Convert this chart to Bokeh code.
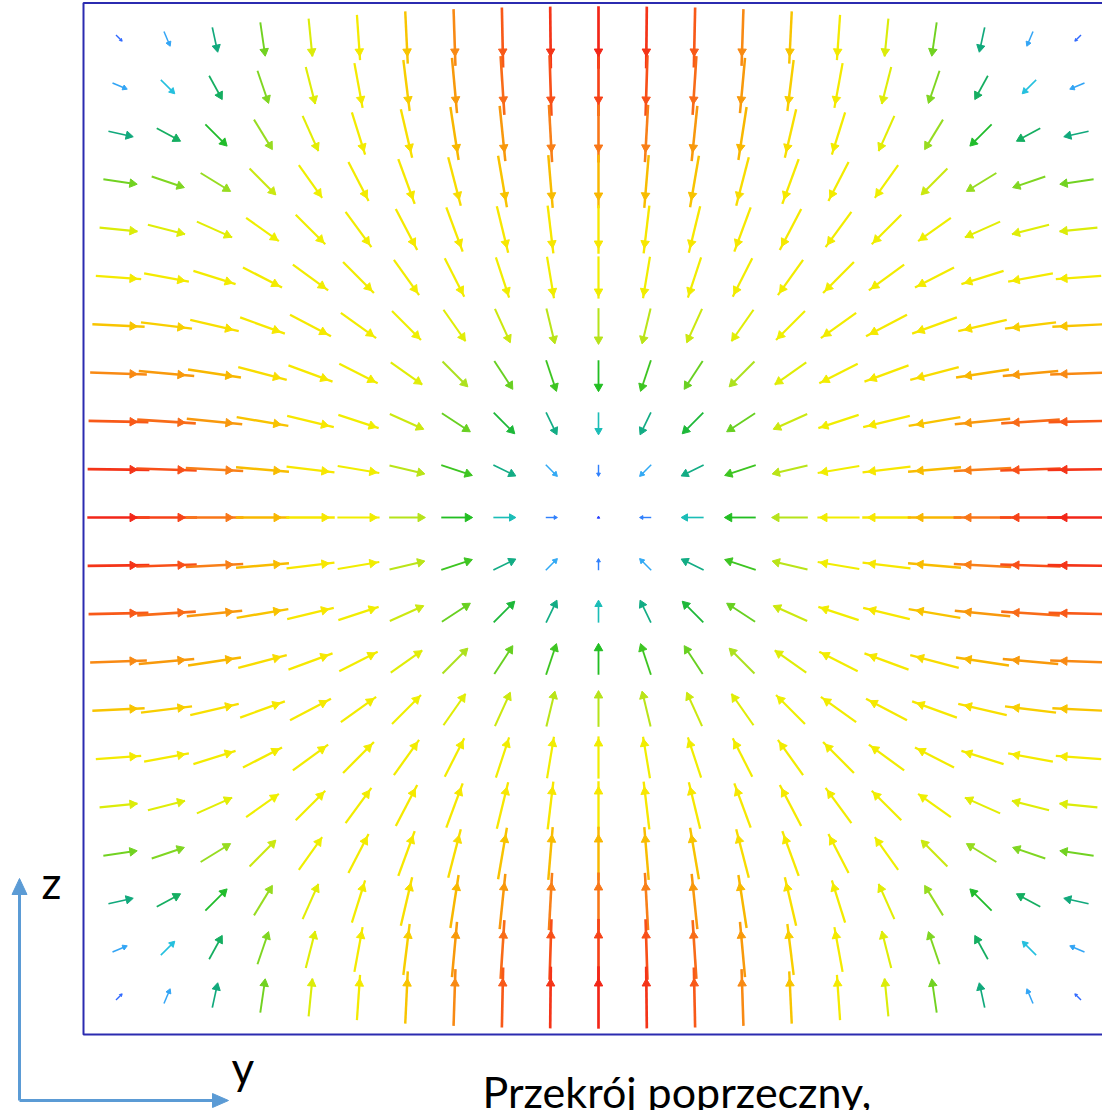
import math
from bokeh.plotting import figure
from bokeh.models import Range1d, ColumnDataSource
from bokeh.core.properties import value
from bokeh.embed import file_html
from bokeh.resources import INLINE

# ---------------- data ----------------
# grid positions of the arrows (cross-section coordinates y, z)
grid_y = [-10, -9, -8, -7, -6, -5, -4, -3, -2, -1, 0, 1, 2, 3, 4, 5, 6, 7, 8, 9, 10]
grid_z = [10, 9, 8, 7, 6, 5, 4, 3, 2, 1, 0, -1, -2, -3, -4, -5, -6, -7, -8, -9, -10]

# horizontal (y) component of the field, % of maximum, rows top -> bottom
U = [
    [8, 8, 7, 7, 6, 5, 4, 3, 2, 1, 0, -1, -2, -3, -4, -5, -6, -7, -7, -8, -8],
    [19, 18, 17, 16, 15, 13, 10, 8, 6, 3, 0, -3, -6, -8, -10, -13, -15, -16, -17, -18, -19],
    [32, 31, 29, 27, 25, 21, 18, 13, 9, 5, 0, -5, -9, -13, -18, -21, -25, -27, -29, -31, -32],
    [48, 47, 44, 41, 37, 32, 26, 20, 14, 7, 0, -7, -14, -20, -26, -32, -37, -41, -44, -47, -48],
    [60, 59, 56, 52, 47, 41, 34, 26, 18, 9, 0, -9, -18, -26, -34, -41, -47, -52, -56, -59, -60],
    [72, 71, 67, 62, 56, 49, 40, 31, 21, 11, 0, -11, -21, -31, -40, -49, -56, -62, -67, -71, -72],
    [83, 81, 77, 71, 65, 56, 46, 35, 24, 13, 0, -13, -24, -35, -46, -56, -65, -71, -77, -81, -83],
    [90, 88, 84, 77, 70, 61, 50, 38, 26, 14, 0, -14, -26, -38, -50, -61, -70, -77, -84, -88, -90],
    [95, 93, 88, 82, 74, 64, 53, 40, 28, 14, 0, -14, -28, -40, -53, -64, -74, -82, -88, -93, -95],
    [98, 96, 91, 84, 76, 66, 54, 42, 29, 15, 0, -15, -29, -42, -54, -66, -76, -84, -91, -96, -98],
    [99, 97, 92, 85, 77, 67, 55, 42, 29, 15, 0, -15, -29, -42, -55, -67, -77, -85, -92, -97, -99],
    [98, 96, 91, 84, 76, 66, 54, 42, 29, 15, 0, -15, -29, -42, -54, -66, -76, -84, -91, -96, -98],
    [95, 93, 88, 82, 74, 64, 53, 40, 28, 14, 0, -14, -28, -40, -53, -64, -74, -82, -88, -93, -95],
    [90, 88, 84, 77, 70, 61, 50, 38, 26, 14, 0, -14, -26, -38, -50, -61, -70, -77, -84, -88, -90],
    [83, 81, 77, 71, 65, 56, 46, 35, 24, 13, 0, -13, -24, -35, -46, -56, -65, -71, -77, -81, -83],
    [72, 71, 67, 62, 56, 49, 40, 31, 21, 11, 0, -11, -21, -31, -40, -49, -56, -62, -67, -71, -72],
    [60, 59, 56, 52, 47, 41, 34, 26, 18, 9, 0, -9, -18, -26, -34, -41, -47, -52, -56, -59, -60],
    [48, 47, 44, 41, 37, 32, 26, 20, 14, 7, 0, -7, -14, -20, -26, -32, -37, -41, -44, -47, -48],
    [32, 31, 29, 27, 25, 21, 18, 13, 9, 5, 0, -5, -9, -13, -18, -21, -25, -27, -29, -31, -32],
    [19, 18, 17, 16, 15, 13, 10, 8, 6, 3, 0, -3, -6, -8, -10, -13, -15, -16, -17, -18, -19],
    [8, 8, 7, 7, 6, 5, 4, 3, 2, 1, 0, -1, -2, -3, -4, -5, -6, -7, -7, -8, -8],
]

# vertical (z) component of the field, % of maximum, rows top -> bottom
V = [
    [-8, -19, -32, -48, -60, -72, -83, -90, -95, -98, -99, -98, -95, -90, -83, -72, -60, -48, -32, -19, -8],
    [-8, -18, -31, -47, -59, -71, -81, -88, -93, -96, -97, -96, -93, -88, -81, -71, -59, -47, -31, -18, -8],
    [-7, -17, -29, -44, -56, -67, -77, -84, -88, -91, -92, -91, -88, -84, -77, -67, -56, -44, -29, -17, -7],
    [-7, -16, -27, -41, -52, -62, -71, -77, -82, -84, -85, -84, -82, -77, -71, -62, -52, -41, -27, -16, -7],
    [-6, -15, -25, -37, -47, -56, -65, -70, -74, -76, -77, -76, -74, -70, -65, -56, -47, -37, -25, -15, -6],
    [-5, -13, -21, -32, -41, -49, -56, -61, -64, -66, -67, -66, -64, -61, -56, -49, -41, -32, -21, -13, -5],
    [-4, -10, -18, -26, -34, -40, -46, -50, -53, -54, -55, -54, -53, -50, -46, -40, -34, -26, -18, -10, -4],
    [-3, -8, -13, -20, -26, -31, -35, -38, -40, -42, -42, -42, -40, -38, -35, -31, -26, -20, -13, -8, -3],
    [-2, -6, -9, -14, -18, -21, -24, -26, -28, -29, -29, -29, -28, -26, -24, -21, -18, -14, -9, -6, -2],
    [-1, -3, -5, -7, -9, -11, -13, -14, -14, -15, -15, -15, -14, -14, -13, -11, -9, -7, -5, -3, -1],
    [0, 0, 0, 0, 0, 0, 0, 0, 0, 0, 0, 0, 0, 0, 0, 0, 0, 0, 0, 0, 0],
    [1, 3, 5, 7, 9, 11, 13, 14, 14, 15, 15, 15, 14, 14, 13, 11, 9, 7, 5, 3, 1],
    [2, 6, 9, 14, 18, 21, 24, 26, 28, 29, 29, 29, 28, 26, 24, 21, 18, 14, 9, 6, 2],
    [3, 8, 13, 20, 26, 31, 35, 38, 40, 42, 42, 42, 40, 38, 35, 31, 26, 20, 13, 8, 3],
    [4, 10, 18, 26, 34, 40, 46, 50, 53, 54, 55, 54, 53, 50, 46, 40, 34, 26, 18, 10, 4],
    [5, 13, 21, 32, 41, 49, 56, 61, 64, 66, 67, 66, 64, 61, 56, 49, 41, 32, 21, 13, 5],
    [6, 15, 25, 37, 47, 56, 65, 70, 74, 76, 77, 76, 74, 70, 65, 56, 47, 37, 25, 15, 6],
    [7, 16, 27, 41, 52, 62, 71, 77, 82, 84, 85, 84, 82, 77, 71, 62, 52, 41, 27, 16, 7],
    [7, 17, 29, 44, 56, 67, 77, 84, 88, 91, 92, 91, 88, 84, 77, 67, 56, 44, 29, 17, 7],
    [8, 18, 31, 47, 59, 71, 81, 88, 93, 96, 97, 96, 93, 88, 81, 71, 59, 47, 31, 18, 8],
    [8, 19, 32, 48, 60, 72, 83, 90, 95, 98, 99, 98, 95, 90, 83, 72, 60, 48, 32, 19, 8],
]

caption = "Przekrój poprzeczny,"
label_h = "y"
label_v = "z"

# ---------------- layout / style ----------------
PX = 48.0          # pixels per grid step
LMAX = 63.0        # pixel length of a 100 % arrow
CX, CY = 598.0, 517.0   # canvas position of the grid centre
W, H = 1102, 1110

def dx(px_x):
    return (px_x - CX) / PX

def dz(px_y):
    return (CY - px_y) / PX

stops = [
    (0.00, (42, 64, 255)), (0.12, (47, 108, 255)), (0.21, (51, 168, 245)),
    (0.27, (32, 200, 214)), (0.33, (16, 168, 120)), (0.42, (34, 190, 34)),
    (0.53, (168, 224, 32)), (0.63, (238, 240, 0)), (0.78, (248, 230, 0)),
    (0.86, (248, 176, 0)), (0.91, (248, 128, 24)), (0.96, (248, 80, 24)),
    (1.00, (240, 24, 24)),
]

def cmap(m):
    m = max(0.0, min(1.0, m))
    for (a, ca), (b, cb) in zip(stops[:-1], stops[1:]):
        if m <= b:
            t = (m - a) / (b - a) if b > a else 0
            c = [int(round(ca[k] + t * (cb[k] - ca[k]))) for k in range(3)]
            return "#%02x%02x%02x" % tuple(c)
    return "#%02x%02x%02x" % stops[-1][1]

x0s, y0s, x1s, y1s, hx, hy, ang, hs, cols, lws = [], [], [], [], [], [], [], [], [], []
for j, zc in enumerate(grid_z):
    for i, yc in enumerate(grid_y):
        u = U[j][i] / 100.0
        v = V[j][i] / 100.0
        m = math.hypot(u, v)
        lpx = m * LMAX
        du = u * LMAX / PX
        dv = v * LMAX / PX
        x0s.append(yc - du / 2); x1s.append(yc + du / 2)
        y0s.append(zc - dv / 2); y1s.append(zc + dv / 2)
        if m > 0:
            ux, uz = u / m, v / m
            phi = math.atan2(v, u)
        else:
            ux, uz, phi = 0.0, 0.0, math.pi / 2
        off = min(lpx / 2.0, 14.0) / PX
        hx.append(yc + ux * off)
        hy.append(zc + uz * off)
        ang.append(phi - math.pi / 2)
        hs.append(max(2.5, min(8.5, lpx * 0.4)))
        cols.append(cmap(m))
        lws.append(1.2 + 1.5 * m)

src = ColumnDataSource(dict(x0=x0s, y0=y0s, x1=x1s, y1=y1s, hx=hx, hy=hy,
                            ang=ang, hs=hs, col=cols, lw=lws))

p = figure(width=W, height=H, output_backend="svg", toolbar_location=None,
           x_range=Range1d(dx(0), dx(W)), y_range=Range1d(dz(H), dz(0)),
           x_axis_location=None, y_axis_location=None, min_border=0)
p.grid.visible = False
p.outline_line_color = None
p.background_fill_color = "white"
p.border_fill_color = "white"

# frame of the cross-section
p.quad(left=[dx(83)], right=[dx(1113)], bottom=[dz(1034)], top=[dz(2.5)],
       fill_color=None, line_color="#2b2bb0", line_width=2)

p.segment(x0="x0", y0="y0", x1="x1", y1="y1", source=src,
          line_color="col", line_width="lw", line_cap="butt")
p.scatter(x="hx", y="hy", source=src, marker="triangle", size="hs",
          angle="ang", fill_color="col", line_color="col", line_width=1)

# coordinate indicator
ind = "#5b9bd5"
p.line([dx(19), dx(19)], [dz(1100), dz(893)], line_color=ind, line_width=3)
p.line([dx(19), dx(213)], [dz(1100), dz(1100)], line_color=ind, line_width=3)
p.patches(xs=[[dx(11.5), dx(26.5), dx(19)], [dx(212), dx(212), dx(228)]],
          ys=[[dz(894), dz(894), dz(878)], [dz(1093), dz(1107), dz(1100)]],
          fill_color=ind, line_color=ind)

font = value("Lato")
p.text(x=[dx(41)], y=[dz(881)], text=[label_v], text_font=font,
       text_font_size=value("44px"), text_color="black",
       text_baseline="alphabetic", text_align="left")
p.text(x=[dx(231)], y=[dz(1066)], text=[label_h], text_font=font,
       text_font_size=value("44px"), text_color="black",
       text_baseline="alphabetic", text_align="left")
p.text(x=[dx(482)], y=[dz(1091)], text=[caption], text_font=font,
       text_font_size=value("43px"), text_color="black",
       text_baseline="alphabetic", text_align="left")

open("out.html", "w").write(file_html(p, INLINE))
